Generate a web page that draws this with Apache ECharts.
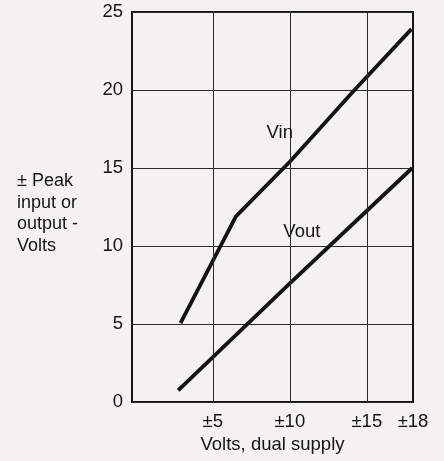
<!DOCTYPE html>
<html>
<head>
<meta charset="utf-8">
<script src="https://cdn.jsdelivr.net/npm/echarts@6/dist/echarts.min.js"></script>
<style>
  html, body { margin: 0; padding: 0; background: #f3f2ef; }
  #chart { width: 444px; height: 461px; }
</style>
</head>
<body>
<div id="chart"></div>
<script>
// Supply voltage (± volts) vs. peak swing
const vinPoints = [[2.9, 5.05], [6.5, 11.9], [10, 15.4], [14.2, 20], [17.9, 23.9]];
const voutPoints = [[2.75, 0.75], [10, 7.6], [17.95, 15.0]];
const xTicks = [5, 10, 15, 18];
const xGrid = [5, 10, 15];
const yName = '± Peak\ninput or\noutput -\nVolts';
const xName = 'Volts, dual supply';

const font = 'Liberation Sans, Arial, Helvetica, sans-serif';
const ink = '#141414';

const chart = echarts.init(document.getElementById('chart'), null, { renderer: 'canvas' });
chart.setOption({
  backgroundColor: '#f3f2ef',
  animation: false,
  grid: {
    left: 132, right: 31, top: 12, bottom: 59,
    show: true, borderColor: ink, borderWidth: 2, backgroundColor: 'transparent'
  },
  xAxis: {
    type: 'value', min: -0.25, max: 18,
    name: xName, nameLocation: 'middle', nameGap: 29,
    nameTextStyle: { fontFamily: font, fontSize: 18.5, color: ink },
    axisLine: { show: false },
    axisTick: { show: false, customValues: xTicks },
    splitLine: { show: false },
    axisLabel: {
      customValues: xTicks, margin: 10,
      fontFamily: font, fontSize: 18.5, color: ink,
      formatter: v => '±' + v
    }
  },
  yAxis: {
    type: 'value', min: 0, max: 25, interval: 5,
    axisLine: { show: false },
    axisTick: { show: false },
    splitLine: { show: true, lineStyle: { color: '#2a2a2a', width: 1 } },
    axisLabel: { margin: 9, fontFamily: font, fontSize: 18.5, color: ink }
  },
  graphic: [{
    type: 'text', left: 17, top: 170,
    style: { text: yName, fontFamily: font, fontSize: 18, lineHeight: 21.7, fill: ink }
  }],
  series: [
    {
      name: 'Vin', type: 'line', data: vinPoints, symbol: 'none',
      lineStyle: { color: ink, width: 3.8 },
      markLine: {
        silent: true, symbol: 'none',
        label: { show: false },
        lineStyle: { color: '#2a2a2a', width: 1, type: 'solid' },
        data: xGrid.map(v => ({ xAxis: v }))
      },
      markPoint: {
        symbol: 'circle', symbolSize: 0,
        label: { show: true, position: 'inside', fontFamily: font, fontSize: 18.5, color: ink, formatter: 'Vin' },
        data: [{ coord: [9.35, 17.25] }]
      }
    },
    {
      name: 'Vout', type: 'line', data: voutPoints, symbol: 'none',
      lineStyle: { color: ink, width: 3.8 },
      markPoint: {
        symbol: 'circle', symbolSize: 0,
        label: { show: true, position: 'inside', fontFamily: font, fontSize: 18.5, color: ink, formatter: 'Vout' },
        data: [{ coord: [10.78, 10.9] }]
      }
    }
  ]
});
</script>
</body>
</html>
